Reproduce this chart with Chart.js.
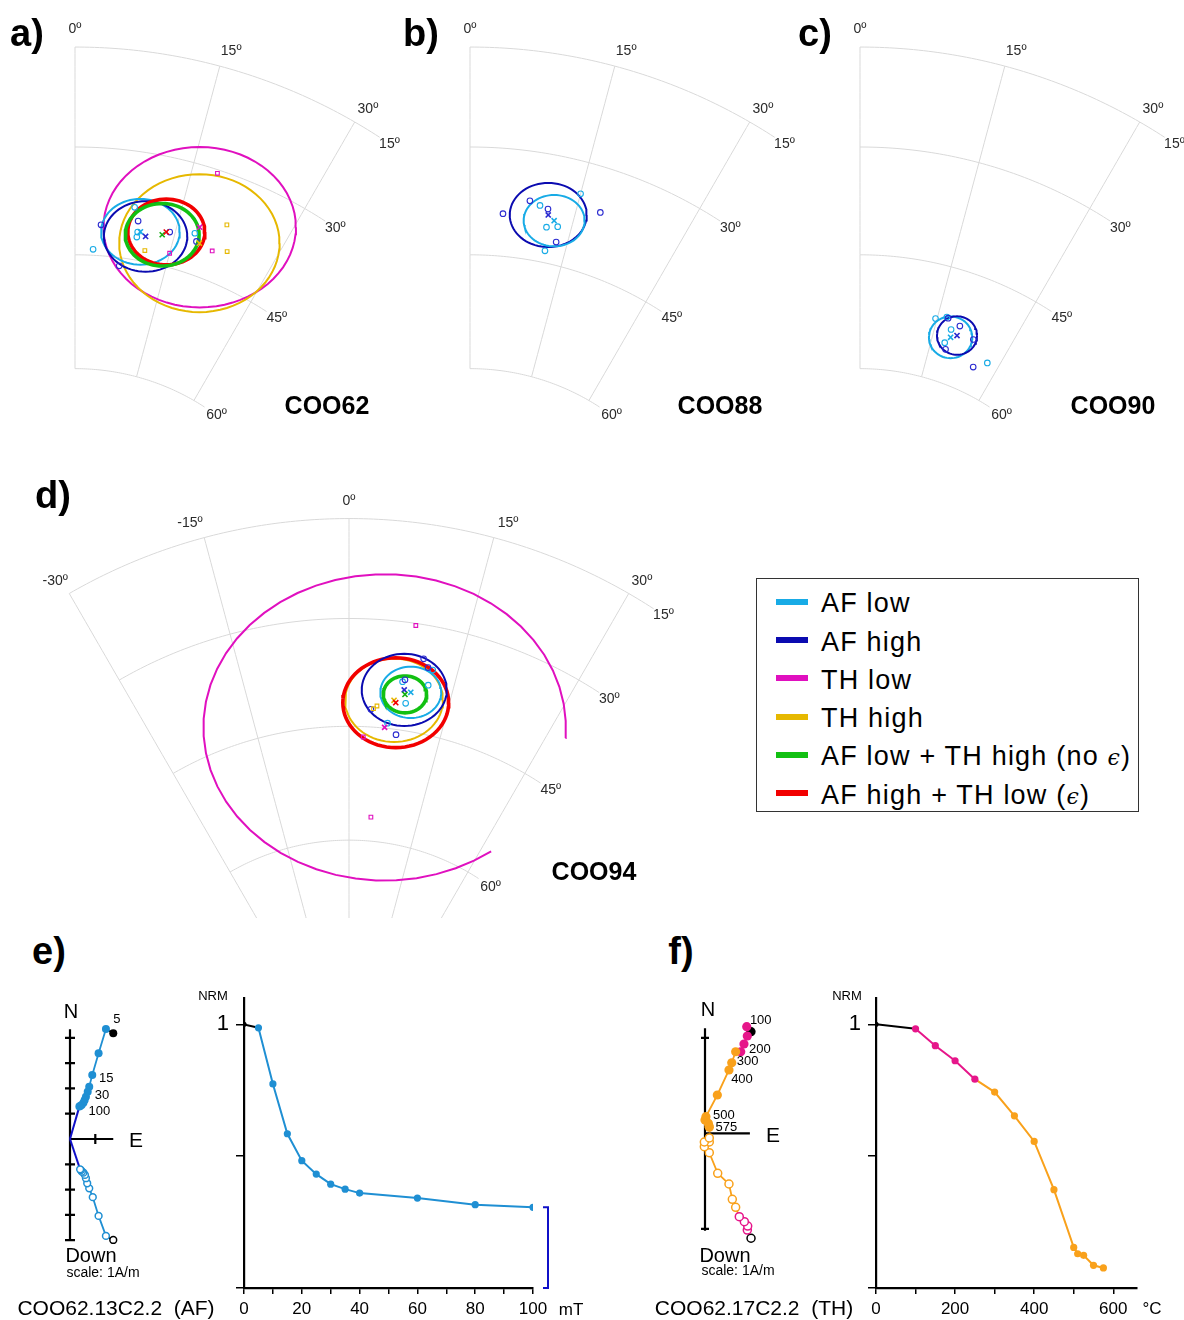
<!DOCTYPE html>
<html lang="en">
<head>
<meta charset="utf-8">
<title>COO sites – palaeomagnetic directions and demagnetisation</title>
<script src="https://cdn.jsdelivr.net/npm/chart.js@4.4.1/dist/chart.umd.min.js"></script>
<style>
  html, body { margin: 0; padding: 0; background: #fff; }
  body { position: relative; width: 1184px; height: 1320px; overflow: hidden;
         font-family: "Liberation Sans", Arial, sans-serif; color: #000; }
  canvas { position: absolute; display: block; }
  .t { position: absolute; transform: translate(-50%, -50%); line-height: 1; white-space: nowrap; z-index: 2; }
  .panel { font-weight: bold; font-size: 38px; }
  .site { font-weight: bold; font-size: 25px; }
  .ax { font-size: 20px; }
  .sc { font-size: 14px; }
  .unit { font-size: 17px; }
  .nrm { font-size: 13px; }
  .spec { font-size: 21px; }
  #legend { position: absolute; left: 756px; top: 578px; width: 383px; height: 234px;
            border: 1px solid #333; box-sizing: border-box; z-index: 2; }
  .lrow { position: absolute; left: 0; height: 0; }
  .sw { position: absolute; left: 19px; top: -3px; width: 32px; height: 6px; }
  .lt { position: absolute; left: 64px; top: 1.5px; transform: translateY(-50%); line-height: 1;
        font-size: 27px; letter-spacing: 1.2px; white-space: nowrap; }
  .eps { font-family: "DejaVu Serif", serif; font-style: italic; font-size: 22px; }
</style>
</head>
<body>

<div class="t panel" style="left:27px;top:33px">a)</div>
<div class="t panel" style="left:421px;top:33px">b)</div>
<div class="t panel" style="left:815px;top:33px">c)</div>
<div class="t panel" style="left:53px;top:495px">d)</div>
<div class="t panel" style="left:49px;top:951px">e)</div>
<div class="t panel" style="left:681px;top:951px">f)</div>

<div class="t site" style="left:327px;top:405px">COO62</div>
<div class="t site" style="left:720px;top:405px">COO88</div>
<div class="t site" style="left:1113px;top:405px">COO90</div>
<div class="t site" style="left:594px;top:871px">COO94</div>

<div id="legend"></div>

<!-- AF specimen -->
<div class="t ax" style="left:71px;top:1011px">N</div>
<div class="t ax" style="left:136px;top:1139px;font-size:21px">E</div>
<div class="t ax" style="left:91px;top:1255px">Down</div>
<div class="t sc" style="left:103px;top:1272px">scale: 1A/m</div>
<div class="t spec" style="left:116px;top:1307px">COO62.13C2.2&nbsp;&nbsp;(AF)</div>
<div class="t nrm" style="left:213px;top:995px">NRM</div>
<div class="t unit" style="left:571px;top:1309px">mT</div>

<!-- TH specimen -->
<div class="t ax" style="left:708px;top:1009px">N</div>
<div class="t ax" style="left:773px;top:1134px;font-size:21px">E</div>
<div class="t ax" style="left:725px;top:1255px">Down</div>
<div class="t sc" style="left:738px;top:1270px">scale: 1A/m</div>
<div class="t spec" style="left:754px;top:1307px">COO62.17C2.2&nbsp;&nbsp;(TH)</div>
<div class="t nrm" style="left:847px;top:995px">NRM</div>
<div class="t unit" style="left:1152px;top:1308px">°C</div>

<script>
// ---------------------------------------------------------------------------
// Series shared by the four equal-area plots
// ---------------------------------------------------------------------------
const seriesNames = ['AF low', 'AF high', 'TH low', 'TH high',
                     'AF low + TH high (no ϵ)', 'AF high + TH low (ϵ)'];
const seriesColors = ['#18abe6', '#0b0bb0', '#e010bf', '#e6b800', '#12c012', '#f20000'];
const pointColors  = ['#18abe6', '#2a2ad0', '#e010bf', '#e6b800', '#12b012', '#f20000'];
const ellipseWidths = [2, 2, 2, 2, 3.6, 3.6];

// Specimen directions, [declination, inclination] in degrees
const coo62AfLow  = [[8.5, 37.9], [9.5, 41.2], [9.5, 41.9], [2.9, 44.2], [17.8, 39.5]];
const coo62AfHigh = [[3.9, 40.8], [9.3, 39.7], [14.2, 40.3], [18.4, 40.5], [7.4, 46.1]];
const coo62ThLow  = [[18.2, 30.5], [21.1, 41.0], [15.0, 43.1]];
const coo62ThHigh = [[21.7, 36.9], [23.2, 40.3], [11.1, 43.5]];

const coo88AfLow  = [[15.0, 34.6], [9.9, 37.4], [11.4, 40.2], [13.0, 39.8], [11.9, 43.4]];
const coo88AfHigh = [[4.8, 39.2], [8.4, 37.0], [11.1, 37.7], [18.3, 36.3], [13.3, 41.9]];

const coo90AfLow  = [[14.7, 52.2], [18.2, 53.0], [17.8, 54.9], [27.6, 55.2], [16.7, 51.6]];
const coo90AfHigh = [[17.0, 51.7], [19.6, 52.2], [23.0, 53.2], [18.4, 55.7], [25.3, 56.5]];

const coo94AfLow  = [[7.7, 38.4], [11.4, 38.3], [8.6, 41.3], [6.2, 44.3], [11.6, 36.1]];
const coo94AfHigh = [[10.1, 34.8], [10.9, 35.9], [8.0, 38.1], [3.4, 42.6], [7.8, 45.7]];
const coo94ThLow  = [[8.4, 30.3], [2.4, 46.4], [4.8, 56.9]];
const coo94ThHigh = [[4.3, 42.1], [3.8, 42.5]];

// Site means per series: [dec, inc, confidence semi-axis across (deg), semi-axis along (deg)],
// optionally [from, to] (deg) when only part of the confidence region is traced
const coo62Means = [[9.9, 41.1, 4.9, 4.1], [10.8, 41.6, 5.2, 4.4], [18.2, 38.5, 12.0, 10.0],
                    [18.9, 40.6, 10.0, 8.6], [13.2, 40.9, 4.6, 3.9], [13.7, 40.4, 4.8, 4.1]];
const coo88Means = [[12.3, 39.1, 3.8, 3.2], [11.3, 38.5, 4.8, 4.0], null, null, null, null];
const coo90Means = [[18.6, 54.0, 2.7, 2.6], [19.7, 53.5, 2.5, 2.4], null, null, null, null];
const coo94Means = [[9.1, 39.7, 3.8, 3.2], [8.1, 39.5, 5.3, 4.5], [5.8, 44.9, 22.6, 19.1, -4, 306],
                    [6.8, 41.1, 6.1, 5.2], [8.3, 40.1, 2.7, 2.3], [7.1, 41.4, 6.6, 5.6]];

// Grid of the equal-area sector
const incCircles = [15, 30, 45, 60];
const decLinesNarrow = [0, 15, 30];
const decLinesWide = [-30, -15, 0, 15, 30];

// ---------------------------------------------------------------------------
// Specimen COO62.13C2.2 – alternating-field demagnetisation
// ---------------------------------------------------------------------------
const afSteps = [0, 5, 10, 15, 20, 25, 30, 35, 40, 60, 80, 100];          // mT
const afNrm   = [1, 0.987, 0.774, 0.585, 0.483, 0.432, 0.394, 0.375, 0.36, 0.341, 0.316, 0.306];
const afHorizontal = [[1.71, 4.18], [1.42, 4.35], [1.13, 3.39], [0.88, 2.53], [0.76, 2.07], [0.70, 1.87],
                      [0.63, 1.67], [0.58, 1.54], [0.53, 1.43], [0.46, 1.34], [0.40, 1.30], [0.37, 1.28]]; // [E, N]
const afVertical   = [[1.71, 3.99], [1.42, 3.83], [1.13, 3.04], [0.90, 2.30], [0.76, 1.95], [0.68, 1.75],
                      [0.63, 1.55], [0.59, 1.42], [0.53, 1.33], [0.47, 1.29], [0.43, 1.23], [0.40, 1.20]]; // [E, Down]
const afFitStep = 100;   // line fitted from this step to the origin

// ---------------------------------------------------------------------------
// Specimen COO62.17C2.2 – thermal demagnetisation
// ---------------------------------------------------------------------------
const thSteps = [0, 100, 150, 200, 250, 300, 350, 400, 450, 500, 510, 525, 550, 575];   // °C
const thNrm   = [1, 0.983, 0.919, 0.862, 0.792, 0.743, 0.653, 0.556, 0.373, 0.154, 0.13, 0.124, 0.086, 0.076];
const thHorizontal = [[0.482, 1.064], [0.437, 1.116], [0.443, 1.019], [0.408, 0.935], [0.374, 0.854],
                      [0.321, 0.854], [0.280, 0.739], [0.251, 0.663], [0.129, 0.401], [0.010, 0.174],
                      [0.000, 0.139], [0.035, 0.105], [0.042, 0.076], [0.045, 0.063]];   // [E, N]
const thVertical   = [[0.482, 1.099], [0.443, 1.013], [0.447, 0.971], [0.412, 0.926], [0.359, 0.873],
                      [0.321, 0.775], [0.286, 0.691], [0.251, 0.531], [0.133, 0.419], [0.045, 0.203],
                      [-0.007, 0.140], [0.045, 0.091], [-0.007, 0.091], [0.045, 0.049]]; // [E, Down]
const thLowInterval = [100, 250];  // °C

// ---------------------------------------------------------------------------
Chart.defaults.font.family = '"Liberation Sans", Arial, sans-serif';
Chart.defaults.color = '#000';

const D2R = Math.PI / 180;
const PER_DEG = Math.PI / 360;   // projected units per degree of arc
const AF_BLUE = '#1f8fd3', FIT_BLUE = '#1010c8', TH_PINK = '#e6168a', TH_ORANGE = '#f9a11b';

// Lambert equal-area projection, radius sin(colatitude / 2)
function proj(dec, inc) {
  const r = Math.sin((90 - inc) * D2R / 2);
  return { x: r * Math.sin(dec * D2R), y: r * Math.cos(dec * D2R) };
}

function ellipsePoints(m) {
  const c = proj(m[0], m[1]);
  const from = m.length > 4 ? m[4] : 0, to = m.length > 5 ? m[5] : 360;
  const n = m.length > 4 ? 48 : 72;
  const pts = [];
  for (let i = 0; i <= n; i++) {
    const t = (from + (to - from) * i / n) * D2R;
    pts.push({ x: c.x + m[2] * PER_DEG * Math.cos(t), y: c.y + m[3] * PER_DEG * Math.sin(t) });
  }
  return pts;
}

function addCanvas(box) {
  const c = document.createElement('canvas');
  c.width = box.w; c.height = box.h;
  Object.assign(c.style, { left: box.x + 'px', top: box.y + 'px', width: box.w + 'px', height: box.h + 'px' });
  document.body.appendChild(c);
  return c;
}

// Scale ranges that put the origin of the data at a given pixel of the page
function rangesFor(box, origin, pxPerUnit) {
  return {
    x: { type: 'linear', display: false, min: (box.x - origin.x) / pxPerUnit, max: (box.x + box.w - origin.x) / pxPerUnit },
    y: { type: 'linear', display: false, min: (origin.y - box.y - box.h) / pxPerUnit, max: (origin.y - box.y) / pxPerUnit }
  };
}

const baseOptions = { responsive: false, animation: false, events: [], devicePixelRatio: 1,
                      layout: { autoPadding: false, padding: 0 } };

// Great-circle grid and labels of an equal-area sector
const stereoGrid = {
  id: 'stereoGrid',
  beforeDatasetsDraw(chart, _args, o) {
    const { ctx, scales: { x, y } } = chart;
    const px = p => [x.getPixelForValue(p.x), y.getPixelForValue(p.y)];
    ctx.save();
    ctx.strokeStyle = '#d9d9d9';
    ctx.lineWidth = 1;
    for (const inc of o.incs) {
      ctx.beginPath();
      for (let d = o.decFrom, k = 0; d <= o.decTo + 1e-9; d += 0.5, k++) {
        const [u, v] = px(proj(d, inc));
        k ? ctx.lineTo(u, v) : ctx.moveTo(u, v);
      }
      ctx.stroke();
    }
    for (const dec of o.decs) {
      ctx.beginPath();
      for (let inc = o.incs[0], k = 0; inc <= o.incEnd + 1e-9; inc += 1, k++) {
        const [u, v] = px(proj(dec, inc));
        k ? ctx.lineTo(u, v) : ctx.moveTo(u, v);
      }
      ctx.stroke();
    }
    ctx.fillStyle = '#2a2a2a';
    ctx.font = '14px "Liberation Sans", Arial, sans-serif';
    ctx.textAlign = 'center';
    ctx.textBaseline = 'middle';
    o.decs.forEach((dec, i) => {
      const [u, v] = px(proj(o.decLabelAt[i], 12.2));
      ctx.fillText(dec + 'º', u, v);
    });
    o.incs.forEach((inc, i) => {
      const [u, v] = px(proj(o.incLabelAt[i], inc));
      ctx.fillText(inc + 'º', u, v);
    });
    ctx.restore();
  }
};

function stereonet(box, pole, specimens, means, grid) {
  const datasets = [];
  const add = ds => { ds.order = -datasets.length; datasets.push(ds); };
  grid.ellipseOrder.forEach(k => {
    const m = means[k];
    if (!m) return;
    add({ data: ellipsePoints(m), showLine: true, borderColor: seriesColors[k],
          borderWidth: ellipseWidths[k], pointRadius: 0, fill: false });
  });
  specimens.forEach(([k, dirs]) => {
    const af = k < 2;
    add({ data: dirs.map(d => proj(d[0], d[1])), showLine: false,
          pointStyle: af ? 'circle' : 'rect', pointRadius: af ? 2.8 : 2.6,
          pointBorderWidth: 1.1, pointBorderColor: pointColors[k], pointBackgroundColor: 'rgba(255,255,255,0)' });
  });
  means.forEach((m, k) => {
    if (!m) return;
    add({ data: [proj(m[0], m[1])], showLine: false, pointStyle: 'crossRot', pointRadius: 3.6,
          pointBorderWidth: 1.6, pointBorderColor: pointColors[k], pointBackgroundColor: pointColors[k] });
  });
  new Chart(addCanvas(box), {
    type: 'scatter',
    data: { datasets },
    options: { ...baseOptions, scales: rangesFor(box, pole, 919),
               plugins: { legend: { display: false }, tooltip: { enabled: false }, stereoGrid: grid } },
    plugins: [stereoGrid]
  });
}

const narrowGrid = order => ({
  incs: incCircles, decs: decLinesNarrow, decFrom: 0, decTo: 33, incEnd: 60,
  decLabelAt: [0, 15.7, 30.5], incLabelAt: [34.2, 34.5, 35.0, 36.5], ellipseOrder: order
});

stereonet({ x: 40, y: 20, w: 360, h: 410 }, { x: 75, y: 606.5 },
  [[0, coo62AfLow], [1, coo62AfHigh], [2, coo62ThLow], [3, coo62ThHigh]], coo62Means, narrowGrid([2, 3, 0, 1, 5, 4]));
stereonet({ x: 435, y: 20, w: 360, h: 410 }, { x: 470, y: 606.5 },
  [[0, coo88AfLow], [1, coo88AfHigh]], coo88Means, narrowGrid([1, 0]));
stereonet({ x: 825, y: 20, w: 359, h: 410 }, { x: 860, y: 606.5 },
  [[0, coo90AfLow], [1, coo90AfHigh]], coo90Means, narrowGrid([0, 1]));
stereonet({ x: 30, y: 488, w: 700, h: 430 }, { x: 349, y: 1078 },
  [[0, coo94AfLow], [1, coo94AfHigh], [2, coo94ThLow], [3, coo94ThHigh]], coo94Means,
  { incs: incCircles, decs: decLinesWide, decFrom: -30, decTo: 33, incEnd: 85,
    decLabelAt: [-30.6, -16, 0, 16, 30.5], incLabelAt: [34.2, 34.5, 35.0, 36.5], ellipseOrder: [2, 3, 5, 1, 0, 4] });

// Legend shared by the equal-area plots
const legendBox = document.getElementById('legend');
seriesNames.forEach((name, k) => {
  const row = document.createElement('div');
  row.className = 'lrow';
  row.style.top = (22.7 + k * 38.3) + 'px';
  const sw = document.createElement('span');
  sw.className = 'sw';
  sw.style.background = seriesColors[k];
  const tx = document.createElement('span');
  tx.className = 'lt';
  tx.innerHTML = name.replace('ϵ', '<span class="eps">ϵ</span>');
  row.append(sw, tx);
  legendBox.appendChild(row);
});

// ---------------------------------------------------------------------------
// Orthogonal vector plots
// ---------------------------------------------------------------------------
const zijAxes = {
  id: 'zijAxes',
  beforeDatasetsDraw(chart, _a, o) {
    const { ctx, scales: { x, y } } = chart;
    const x0 = x.getPixelForValue(0), y0 = y.getPixelForValue(0);
    ctx.save();
    ctx.strokeStyle = '#000';
    ctx.lineWidth = 2.2;
    ctx.beginPath();
    ctx.moveTo(x0, y.getPixelForValue(o.top)); ctx.lineTo(x0, y.getPixelForValue(o.bottom));
    ctx.moveTo(x0, y0); ctx.lineTo(x.getPixelForValue(o.right), y0);
    for (const v of o.vTicks) { const p = y.getPixelForValue(v); ctx.moveTo(x0 - o.tick, p); ctx.lineTo(x0 + o.tick, p); }
    for (const v of o.hTicks) { const p = x.getPixelForValue(v); ctx.moveTo(p, y0 - o.tick); ctx.lineTo(p, y0 + o.tick); }
    ctx.stroke();
    ctx.restore();
  },
  afterDatasetsDraw(chart, _a, o) {
    const { ctx } = chart;
    const meta = chart.getDatasetMeta(o.labelDataset);
    ctx.save();
    ctx.fillStyle = '#000';
    ctx.font = '13px "Liberation Sans", Arial, sans-serif';
    ctx.textAlign = 'center';
    ctx.textBaseline = 'middle';
    for (const l of o.labels) {
      const el = meta.data[l.i];
      ctx.fillText(String(l.text), el.x + l.dx, el.y + l.dy);
    }
    ctx.restore();
  }
};

function zijderveld(box, origin, pxPerUnit, horiz, vert, colorAt, segColorAt, fitIndex, axes, radius) {
  const h = horiz.map(p => ({ x: p[0], y: p[1] }));
  const v = vert.map(p => ({ x: p[0], y: -p[1] }));
  const datasets = [];
  if (fitIndex != null) {
    datasets.push({ data: [{ x: 0, y: 0 }, h[fitIndex]], showLine: true, borderColor: FIT_BLUE, borderWidth: 2, pointRadius: 0 });
    datasets.push({ data: [{ x: 0, y: 0 }, v[fitIndex]], showLine: true, borderColor: FIT_BLUE, borderWidth: 2, pointRadius: 0 });
  }
  const common = {
    showLine: true, borderWidth: 1.8, borderColor: segColorAt(1),
    segment: { borderColor: c => segColorAt(c.p0DataIndex) }
  };
  datasets.push({ ...common, data: v, pointRadius: radius - 0.6, pointBorderWidth: 1.5,
                  pointBackgroundColor: '#fff', pointBorderColor: v.map((_, i) => colorAt(i)) });
  datasets.push({ ...common, data: h, pointRadius: radius, pointBorderWidth: 0,
                  pointBackgroundColor: h.map((_, i) => colorAt(i)), pointBorderColor: h.map((_, i) => colorAt(i)) });
  datasets.forEach((d, i) => { d.order = -i; });
  axes.labelDataset = datasets.length - 1;
  new Chart(addCanvas(box), {
    type: 'scatter',
    data: { datasets },
    options: { ...baseOptions, scales: rangesFor(box, origin, pxPerUnit),
               plugins: { legend: { display: false }, tooltip: { enabled: false }, zijAxes: axes } },
    plugins: [zijAxes]
  });
}

const afColor = i => (i === 0 ? '#000' : AF_BLUE);
const thColor = i => (thSteps[i] === 0 ? '#000' : thSteps[i] <= thLowInterval[1] ? TH_PINK : TH_ORANGE);
const thSegColor = i => (thSteps[i] === 0 ? '#000' : thSteps[i] < thLowInterval[1] ? TH_PINK : TH_ORANGE);

zijderveld({ x: 30, y: 995, w: 150, h: 265 }, { x: 70, y: 1139 }, 25.3, afHorizontal, afVertical,
  afColor, afColor, afSteps.indexOf(afFitStep),
  { top: 4.34, bottom: -4.02, right: 1.71, vTicks: [-4, -3, -2, -1, 1, 2, 3, 4], hTicks: [1], tick: 5,
    labels: [{ i: afSteps.indexOf(5), text: 5, dx: 11, dy: -10 }, { i: afSteps.indexOf(15), text: 15, dx: 14, dy: 3 },
             { i: afSteps.indexOf(30), text: 30, dx: 16, dy: -1 }, { i: afSteps.indexOf(100), text: 100, dx: 20, dy: 5 }] },
  4);

zijderveld({ x: 670, y: 995, w: 120, h: 260 }, { x: 705, y: 1133.3 }, 95.5, thHorizontal, thVertical,
  thColor, thSegColor, null,
  { top: 1.10, bottom: -1.02, right: 0.47, vTicks: [-1, 1], hTicks: [], tick: 4,
    labels: [{ i: thSteps.indexOf(100), text: 100, dx: 14, dy: -6 }, { i: thSteps.indexOf(200), text: 200, dx: 16, dy: 5 },
             { i: thSteps.indexOf(300), text: 300, dx: 12, dy: 10 }, { i: thSteps.indexOf(400), text: 400, dx: 13, dy: 9 },
             { i: thSteps.indexOf(500), text: 500, dx: 18, dy: -1 }, { i: thSteps.indexOf(575), text: 575, dx: 17, dy: 0 }] },
  4.6);

// ---------------------------------------------------------------------------
// Normalised intensity decay curves
// ---------------------------------------------------------------------------
const remainder = {
  id: 'remainder',
  afterDatasetsDraw(chart, _a, o) {
    if (!o.show) return;
    const { ctx, scales: { x, y } } = chart;
    const data = chart.data.datasets[0].data;
    const last = data[data.length - 1];
    const bx = x.getPixelForValue(last.x) + 15;
    const top = y.getPixelForValue(last.y), bot = y.getPixelForValue(0);
    ctx.save();
    ctx.strokeStyle = FIT_BLUE;
    ctx.lineWidth = 2;
    ctx.beginPath();
    ctx.moveTo(bx - 5, top); ctx.lineTo(bx, top); ctx.lineTo(bx, bot); ctx.lineTo(bx - 5, bot);
    ctx.stroke();
    ctx.restore();
  }
};

function decay(box, steps, nrm, xMax, xTickStep, xTickEnd, xLabelStep, colorAt, segColorAt, bracket) {
  const pts = steps.map((s, i) => ({ x: s, y: nrm[i] }));
  const xTicks = [];
  for (let v = 0; v <= xTickEnd; v += xTickStep) xTicks.push({ value: v });
  const axisGrid = { display: true, drawOnChartArea: false, drawTicks: true, color: '#000', tickColor: '#000', lineWidth: 1.5, tickWidth: 1.5 };
  new Chart(addCanvas(box), {
    type: 'scatter',
    data: { datasets: [{
      data: pts, showLine: true, borderWidth: 2, borderColor: segColorAt(1),
      segment: { borderColor: c => segColorAt(c.p0DataIndex) },
      pointRadius: pts.map((_, i) => (i === 0 ? 2.6 : 3.6)), pointBorderWidth: 0,
      pointBackgroundColor: pts.map((_, i) => colorAt(i)), pointBorderColor: pts.map((_, i) => colorAt(i))
    }] },
    options: {
      ...baseOptions,
      layout: { autoPadding: false, padding: { top: 13, right: 24, bottom: 0, left: 0 } },
      scales: {
        x: { type: 'linear', min: 0, max: xMax,
             afterBuildTicks: s => { s.ticks = xTicks.map(t => ({ ...t })); },
             afterFit: s => { s.height = 32; s.paddingLeft = 0; s.paddingRight = 0; },
             ticks: { autoSkip: false, maxRotation: 0, padding: 5, font: { size: 17 },
                      callback: v => (v % xLabelStep === 0 ? String(v) : '') },
             grid: { ...axisGrid, tickLength: 6 },
             border: { display: true, color: '#000', width: 2.2 } },
        y: { type: 'linear', min: 0, max: 1.1,
             afterBuildTicks: s => { s.ticks = [0, 0.5, 1].map(v => ({ value: v })); },
             afterFit: s => { s.width = 64; s.paddingTop = 0; s.paddingBottom = 0; },
             ticks: { padding: 7, font: { size: 22 }, callback: v => (v === 1 ? '1' : '') },
             grid: { ...axisGrid, tickLength: 8 },
             border: { display: true, color: '#000', width: 2.2 } }
      },
      plugins: { legend: { display: false }, tooltip: { enabled: false }, remainder: { show: bracket } }
    },
    plugins: [remainder]
  });
}

decay({ x: 180, y: 985, w: 377, h: 335 }, afSteps, afNrm, 100, 10, 100, 20, afColor, afColor, true);
decay({ x: 812, y: 985, w: 349, h: 335 }, thSteps, thNrm, 660, 100, 600, 200, thColor, thSegColor, false);
</script>
</body>
</html>
